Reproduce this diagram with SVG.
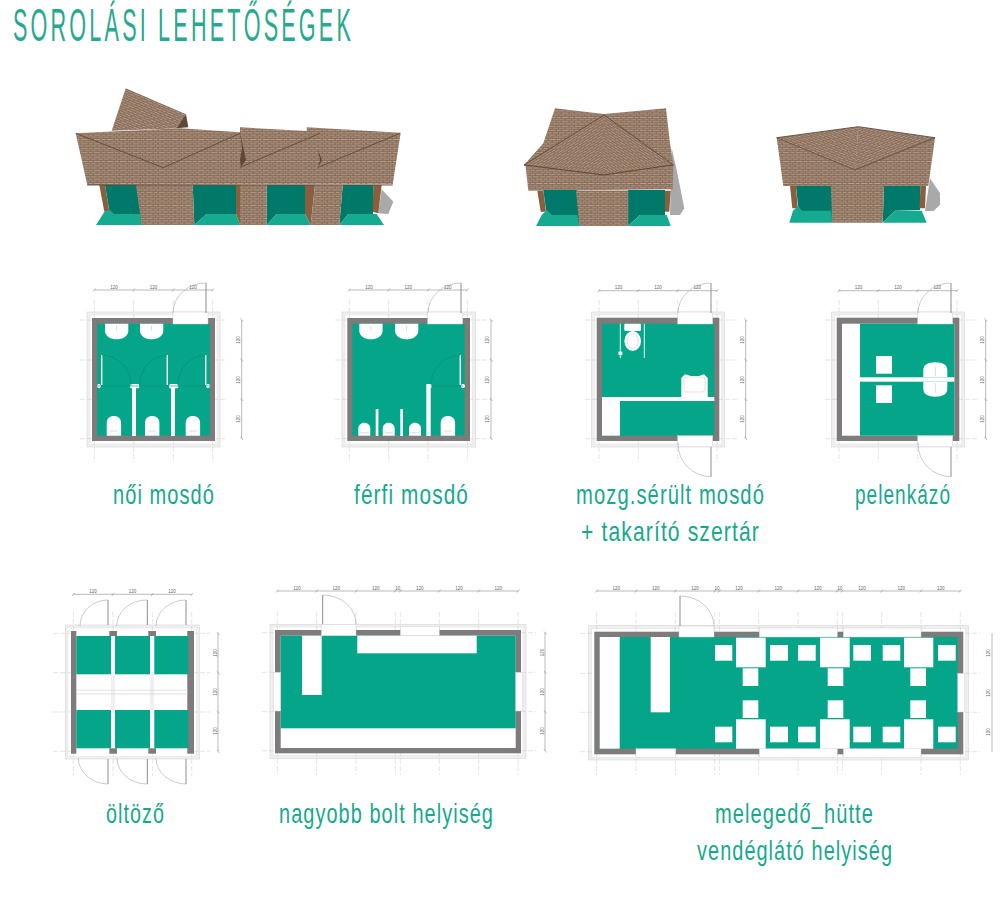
<svg xmlns="http://www.w3.org/2000/svg" width="1000" height="906" viewBox="0 0 1000 906">
<style>
.title{font-family:"Liberation Sans",Arial,sans-serif;font-size:47px;fill:#27a98f;letter-spacing:7px}
.lbl{font-family:"Liberation Sans",Arial,sans-serif;font-size:28px;fill:#17a98c;letter-spacing:1.5px}
.t{font-family:"Liberation Sans",Arial,sans-serif;font-size:4.5px;fill:#666;text-anchor:middle}
.teal{fill:#05a58a}
.wall{fill:#7f7b7a}
.w{fill:#fff}
.ring{fill:#efefef;stroke:#d5d5d5;stroke-width:.6}
.ringin{fill:#fff;stroke:#e2e2e2;stroke-width:.5}
.grid{stroke:#c8c8c8;stroke-width:.5;fill:none;stroke-dasharray:5 2}
.dim{stroke:#777;stroke-width:.5;fill:none}
.door{stroke:#b5b5b5;stroke-width:.7;fill:none}
.leaf{stroke:#8d8d8d;stroke-width:1;fill:none}
.swing{stroke:#068a74;stroke-width:.6;fill:none}
.gap{fill:#fff;stroke:#cfcfcf;stroke-width:.5}
.brick{fill:url(#bricks)}
.rf{stroke:#5f4a3a;stroke-width:.9;fill:none}
.dk{fill:#00796a}
.fl{fill:#12ab90}
.wd{fill:#8a5f3e}
.sh{fill:#a9a9a9}
.soft{filter:url(#soft)}
</style>
<defs>
<filter id="soft" x="-5%" y="-5%" width="110%" height="110%"><feGaussianBlur stdDeviation="0.35"/></filter>
<pattern id="bricks" width="13" height="4.4" patternUnits="userSpaceOnUse">
<rect width="13" height="4.4" fill="#8f7460"/>
<path d="M0 .9H5.5M7 .9H12M3 3.1H9.5M11 3.1H13M0 3.1H1.5" stroke="#b9a08a" stroke-width=".9"/>
<path d="M0 2H13M0 4.2H13" stroke="#725b4a" stroke-width=".45"/>
</pattern>
<pattern id="bricksL" href="#bricks" patternTransform="rotate(-32)"/>
<pattern id="bricksR" href="#bricks" patternTransform="rotate(32)"/>
<pattern id="bricksB" href="#bricks" patternTransform="rotate(23)"/>
<pattern id="bricksC" href="#bricks" patternTransform="rotate(22)"/>
<pattern id="bricksD" href="#bricks" patternTransform="rotate(-22)"/>
<g id="basin"><path d="M0 0H23.3V7C23.3 13 17 15.6 11.6 15.6S0 13 0 7Z" fill="#fff"/><path d="M11.6 2V7" stroke="#b9b9b9" stroke-width=".5"/></g>
<g id="wc"><path d="M0 19.7V7C0 2.5 3.2 0 7.2 0S14.4 2.5 14.4 7V19.7Z" fill="#fff"/><path d="M3 15H11.4" stroke="#bbb" stroke-width=".5"/></g>
<g id="urinal"><path d="M0 13V6C0 2.5 2.6 0 6 0S12 2.5 12 6V13Z" fill="#fff"/><path d="M2 10H10" stroke="#bbb" stroke-width=".5"/></g>
<g id="head"><rect width="9.3" height="4.3" rx="1.5" fill="#fff"/></g>
</defs>

<text id="title" class="title" x="13" y="41" textLength="341" lengthAdjust="spacingAndGlyphs">SOROLÁSI LEHETŐSÉGEK</text>

<g id="building1" class="soft">
<polygon class="sh" points="381.7,189.3 393.3,201.7 388.3,214 378.3,213.3"/>
<polygon fill="url(#bricksB)" points="125.7,88.3 186,114.3 180,128.3 111.7,130.7"/>
<polygon fill="#5d4838" points="186,114.3 188.3,127.3 176.7,128.3"/>
<polygon class="wd" points="99.3,185 105,185 109.3,211.7 104.3,211.7"/>
<polygon class="dk" points="105,185 137,185 142,225 110,215"/>
<polygon class="fl" points="96,225 141.7,225 140,214 114,214 110,210 104.3,212"/>
<polygon class="dk" points="192.7,185 236,185 236,214 206.7,214 194.3,225"/>
<polygon class="wd" points="236,185 240,185 240,225 236,214"/>
<polygon class="fl" points="194.3,225 206.7,214 236,214 240,225"/>
<polygon class="dk" points="266.7,185 305,185 305,214 276.7,214 266.7,225"/>
<polygon class="wd" points="305,185 315,185 310.7,225 305,214"/>
<polygon class="fl" points="266.7,225 276.7,214 305,214 310.7,225"/>
<polygon class="dk" points="342.7,185 373.3,185 373,214 348.3,214 339.3,225"/>
<polygon class="wd" points="373.3,185 381.7,185 378.3,213.3 372.7,211.7"/>
<polygon class="fl" points="339.3,225 348.3,214 376.7,214 384,225"/>
<polygon class="brick" points="136,185 192.7,185 194.3,225 141.7,225"/>
<polygon class="brick" points="240,185 266.7,185 266.7,225 240,225"/>
<polygon class="brick" points="315,185 342.7,185 339.3,225 310.7,225"/>
<polygon class="brick" points="75.7,133.3 180,128.3 240,132.3 240,127.3 306.7,131 306.7,127.3 400.7,132.7 392.7,184.3 87.3,185"/>
<path class="rf" d="M75.7 133.3L163.3 167.7L240 133.3M240 167.3L320 133.3M318.3 167.3L400 133.3M87.3 185H392.7"/>
<polygon fill="#5d4838" points="240,132.3 242,148 240,160 241,167 246,160"/>
<polygon fill="#5d4838" points="318,150 320,160 318.3,167.3 322,160"/>
</g>

<g id="building2" class="soft">
<polygon class="sh" points="671.7,148.3 676.7,170 684.3,208.3 680,215 670,215"/>
<polygon class="brick" points="555,108.3 604,114 666,108.3 670,143.3 673.3,165 603.3,175 524,165 543.3,143.3"/>
<polygon fill="url(#bricksL)" points="604,115 524,165 603.7,175"/>
<polygon fill="url(#bricksR)" points="604,115 673.3,165 603.3,175"/>
<path class="rf" d="M604 115L524 165L603.3 175L673.3 165Z"/>
<polygon class="brick" points="525.5,165.5 603.3,175 673.3,165.5 672.7,189.3 528.3,190.7"/>
<path class="rf" d="M524 165L603.3 175L673.3 165"/>
<polygon class="wd" points="537.3,190.7 543.3,190.7 546,211.7 540.7,211.7"/>
<polygon class="dk" points="543.3,190 577,190 580,226 552,226 546,210"/>
<polygon class="fl" points="536,226 579.5,226 577.3,215 552,215 547,210 541.7,215"/>
<polygon class="dk" points="628,190 665,190 665,215 640,215 628,226"/>
<polygon class="brick" points="576,190.5 628.3,190.5 628.3,226 579.3,226"/>
<polygon class="wd" points="665,190.7 670.7,190.7 669.3,211.7 665,211.7"/>
<polygon class="fl" points="628.3,226 640,215 666.7,215 670.7,226"/>
</g>

<g id="building3" class="soft">
<polygon class="sh" points="930,178.3 940,193.3 940,205 933.3,211 925,211"/>
<polygon class="brick" points="776.7,137.7 855,170 935,137.7 928.3,186 783.3,186"/>
<polygon fill="url(#bricksC)" points="776.7,137.7 858.3,126.7 855.5,170"/>
<polygon fill="url(#bricksD)" points="858.3,126.7 935,137.7 855,170"/>
<path class="rf" d="M776.7 137.7L858.3 126.7L935 137.7L855 170Z"/>
<polygon class="wd" points="790,186 796,186 797.7,208.3 792.3,208.3"/>
<polygon class="dk" points="796,186 832,186 833,222 803,222 798,206"/>
<polygon class="fl" points="789.3,222.7 832.3,222.7 831.3,210.7 802,210.7 798,206 793,210.7"/>
<polygon class="dk" points="884,186 920.7,186 920,210 895,210.7 882.7,222.7"/>
<polygon class="brick" points="830.7,185.8 884,185.8 882.7,222.7 832.3,222.7"/>
<polygon class="wd" points="920.7,186 926,186 925,208.3 919.3,208.3"/>
<polygon class="fl" points="883,222.7 895,210.7 921.7,210.7 926.7,222.7"/>
</g>

<g id="plan-noi">
<rect class="ring" x="87" y="312" width="133" height="135"/><rect class="ringin" x="90" y="315" width="127" height="129"/>
<path class="grid" d="M94.3 300V462M133.7 300V462M173.3 300V462M212.7 300V462M80 320H226M80 360H226M80 399.3H226M80 438.7H226"/>
<path class="dim" d="M94.3 290H212.7M241.7 320V438.7M93 291.5L95.5 288.5M132.5 291.5L135 288.5M172 291.5L174.5 288.5M211.5 291.5L214 288.5M240.5 318.5L243 321.5M240.5 358.5L243 361.5M240.5 398L243 401M240.5 437L243 440"/>
<rect class="wall" x="92" y="318" width="123" height="123"/>
<rect class="teal" x="97" y="323.7" width="113" height="112"/>
<rect class="gap" x="173" y="312" width="35" height="12"/>
<path class="leaf" d="M206 283V313"/><path class="door" d="M206 283A33 30 0 0 0 173 313"/>
<use href="#basin" x="105" y="323.7"/><use href="#basin" x="140" y="323.7"/>
<use href="#wc" x="106.7" y="416"/><use href="#wc" x="145" y="416"/><use href="#wc" x="185.7" y="416"/>
<rect class="w" x="132" y="385" width="4" height="51"/><rect class="w" x="171" y="385" width="4" height="51"/>
<use href="#head" x="130" y="384"/><use href="#head" x="169" y="384"/>
<path d="M101.7 355V385M167.3 355V385M205.7 355V385" stroke="#fff" stroke-width="1.4"/>
<circle class="w" cx="99" cy="386" r="2"/><circle class="w" cx="208" cy="386" r="2"/>
<path class="swing" d="M101.7 355A30 30 0 0 1 131 386M167.3 355A28 30 0 0 0 140 386M205.7 355A28 30 0 0 0 178 386M97 386H210"/>
<text class="t" x="114" y="289">120</text><text class="t" x="153.5" y="289">120</text><text class="t" x="193" y="289">120</text>
<text class="t" transform="translate(240,340) rotate(-90)">120</text><text class="t" transform="translate(240,380) rotate(-90)">120</text><text class="t" transform="translate(240,419) rotate(-90)">120</text>
</g>

<g id="plan-ferfi">
<rect class="ring" x="342" y="312" width="133.3" height="135"/><rect class="ringin" x="345" y="315" width="127.3" height="129"/>
<path class="grid" d="M349.3 300V462M388.7 300V462M428 300V462M467.3 300V462M335 320H490M335 360H490M335 399.3H490M335 438.7H490"/>
<path class="dim" d="M349.3 290H467.3M491 320V438.7M348 291.5L350.5 288.5M387.5 291.5L390 288.5M427 291.5L429.5 288.5M466 291.5L468.5 288.5M490 318.5L492.5 321.5M490 358.5L492.5 361.5M490 398L492.5 401M490 437L492.5 440"/>
<rect class="wall" x="347.3" y="318" width="122.7" height="123"/>
<rect class="teal" x="352.3" y="323.7" width="112.4" height="112"/>
<rect class="gap" x="427.7" y="312" width="35" height="12"/>
<path class="leaf" d="M461 283V313"/><path class="door" d="M461 283A33 30 0 0 0 428 313"/>
<use href="#basin" x="359.3" y="323.7"/><use href="#basin" x="395" y="323.7"/>
<use href="#urinal" x="358.3" y="422.7"/><use href="#urinal" x="382.7" y="422.7"/><use href="#urinal" x="409" y="422.7"/>
<use href="#wc" x="440.7" y="416"/>
<rect class="w" x="375.7" y="409" width="2.7" height="27"/><rect class="w" x="400.3" y="409" width="2.7" height="27"/><rect class="w" x="426.3" y="384" width="4.4" height="52"/>
<path d="M460.3 355V385" stroke="#fff" stroke-width="1.4"/><circle class="w" cx="463" cy="386" r="2"/><circle class="w" cx="430" cy="386" r="2"/>
<path class="swing" d="M460.3 355A30 30 0 0 0 431 386H463"/>
<text class="t" x="369" y="289">120</text><text class="t" x="408.3" y="289">120</text><text class="t" x="447.7" y="289">120</text>
<text class="t" transform="translate(489,340) rotate(-90)">120</text><text class="t" transform="translate(489,380) rotate(-90)">120</text><text class="t" transform="translate(489,419) rotate(-90)">120</text>
</g>

<g id="plan-mozg">
<rect class="ring" x="591.5" y="312" width="133" height="135"/><rect class="ringin" x="594.5" y="315" width="127" height="129"/>
<path class="grid" d="M599 300V462M638.3 300V462M677.7 300V462M717 300V462M585 320H738M585 360H738M585 399.3H738M585 438.7H738"/>
<path class="dim" d="M599 290.7H717M745.7 320V438.7M597.7 292L600.2 289M637 292L639.5 289M676.5 292L679 289M716 292L718.5 289M744.5 318.5L747 321.5M744.5 358.5L747 361.5M744.5 398L747 401M744.5 437L747 440"/>
<rect class="wall" x="596.7" y="317.7" width="122.6" height="123.3"/>
<rect class="teal" x="602" y="323.7" width="112.3" height="112"/>
<rect class="gap" x="677.7" y="312" width="35" height="12"/><rect class="gap" x="677.7" y="435.7" width="35" height="11"/>
<path class="leaf" d="M711 283V313M711 447V476.7"/><path class="door" d="M711 283A33 30 0 0 0 678 313M678 443A33 33 0 0 0 711 476.7"/>
<rect class="w" x="602" y="397" width="112.3" height="4"/><rect class="w" x="602" y="401" width="18" height="34.7"/>
<rect class="w" x="624.3" y="323.7" width="16.7" height="7.3" rx="1"/><ellipse class="w" cx="632.7" cy="341" rx="8.3" ry="10"/><ellipse cx="632.7" cy="341" rx="5.5" ry="7" fill="none" stroke="#d9b9b0" stroke-width=".5"/>
<path d="M620.3 323.7V358M644.3 323.7V358" stroke="#fff" stroke-width=".9"/><rect class="w" x="618.5" y="351.5" width="3.8" height="3.6"/>
<path class="w" d="M681.3 397V378L685 374.3L691 376H699L704 374.3L707.7 378V397Z"/><rect x="684" y="377" width="21" height="15" rx="3" fill="none" stroke="#e3b9b0" stroke-width=".5"/>
<text class="t" x="618.5" y="289">120</text><text class="t" x="658" y="289">120</text><text class="t" x="697.3" y="289">120</text>
<text class="t" transform="translate(744,340) rotate(-90)">120</text><text class="t" transform="translate(744,380) rotate(-90)">120</text><text class="t" transform="translate(744,419) rotate(-90)">120</text>
</g>

<g id="plan-pelenkazo">
<rect class="ring" x="831.5" y="312" width="133" height="135"/><rect class="ringin" x="834.5" y="315" width="127" height="129"/>
<path class="grid" d="M839 300V462M878.3 300V462M917.7 300V462M957 300V462M825 320H978M825 360H978M825 399.3H978M825 438.7H978"/>
<path class="dim" d="M839 290.7H957M985.7 320V438.7M837.7 292L840.2 289M877 292L879.5 289M916.5 292L919 289M956 292L958.5 289M984.5 318.5L987 321.5M984.5 358.5L987 361.5M984.5 398L987 401M984.5 437L987 440"/>
<rect class="wall" x="836.7" y="317.7" width="122.6" height="123.3"/>
<rect class="w" x="842" y="323.7" width="112.3" height="112"/>
<rect class="teal" x="860" y="323.7" width="94.3" height="112"/>
<rect class="gap" x="917.7" y="312" width="35" height="12"/><rect class="gap" x="917.7" y="435.7" width="35" height="11"/>
<path class="leaf" d="M951 283V313M951 447V476.7"/><path class="door" d="M951 283A33 30 0 0 0 918 313M918 443A33 33 0 0 0 951 476.7"/>
<rect class="w" x="842" y="377.3" width="112.3" height="4.4"/>
<rect class="w" x="876" y="356" width="16" height="17.7"/><rect class="w" x="876" y="385.3" width="16" height="17.7"/>
<path class="w" d="M923.3 377.3V370C923.3 365 928 362.3 935.3 362.3S947.3 365 947.3 370V377.3Z"/>
<path class="w" d="M923.3 381.7V389C923.3 394 928 396.7 935.3 396.7S947.3 394 947.3 389V381.7Z"/>
<path d="M935.3 366V376M935.3 383V393" stroke="#bbb" stroke-width=".5"/>
<text class="t" x="858.5" y="289">120</text><text class="t" x="898" y="289">120</text><text class="t" x="937.3" y="289">120</text>
<text class="t" transform="translate(984,340) rotate(-90)">120</text><text class="t" transform="translate(984,380) rotate(-90)">120</text><text class="t" transform="translate(984,419) rotate(-90)">120</text>
</g>

<g id="plan-oltozo">
<rect class="ring" x="65.3" y="625" width="134" height="134"/><rect class="ringin" x="68" y="628" width="128.5" height="128.5"/>
<path class="grid" d="M73.3 612V776M113 612V776M152.3 612V776M191.7 612V776M53 633.3H210M53 672.7H210M53 712H210M53 751.3H210"/>
<path class="dim" d="M73.3 594.3H191.7M218 633.3V751.3M72 596L74.5 593M111.7 596L114.2 593M151 596L153.5 593M190.5 596L193 593M217 632L219.5 635M217 671.5L219.5 674.5M217 710.5L219.5 713.5M217 750L219.5 753"/>
<rect class="w" x="71" y="631" width="123" height="122.7"/>
<rect class="wall" x="71" y="631" width="5.3" height="122.7"/><rect class="wall" x="187.3" y="631" width="6.7" height="122.7"/>
<rect class="wall" x="109.3" y="631" width="7.7" height="5"/><rect class="wall" x="148.3" y="631" width="7.7" height="5"/>
<rect class="wall" x="109.3" y="748.3" width="7.7" height="5.4"/><rect class="wall" x="148.3" y="748.3" width="7.7" height="5.4"/>
<rect class="teal" x="76.3" y="636" width="34.7" height="38.3"/><rect class="teal" x="115" y="636" width="35" height="38.3"/><rect class="teal" x="154.3" y="636" width="34" height="38.3"/>
<rect class="teal" x="76.3" y="710" width="34.7" height="38.3"/><rect class="teal" x="115" y="710" width="35" height="38.3"/><rect class="teal" x="154.3" y="710" width="34" height="38.3"/>
<path d="M76 690.3H188M76 694H188M112 674V710M114 674V710M151 674V710M153 674V710" stroke="#cfcfcf" stroke-width=".6" fill="none"/>
<path class="leaf" d="M108 600V625M147.3 600V625M186 600V625M108 759V784M147.3 759V784M186 759V784"/>
<path class="door" d="M108 600A28 26 0 0 0 80 626M147.3 600A30 26 0 0 0 116.7 626M186 600A30 26 0 0 0 156 626M78.3 758A30 26 0 0 0 108 784M117 758A30 26 0 0 0 147.3 784M156 758A30 26 0 0 0 186 784"/>
<text class="t" x="93" y="593">120</text><text class="t" x="132.5" y="593">120</text><text class="t" x="172" y="593">120</text>
<text class="t" transform="translate(217,653) rotate(-90)">120</text><text class="t" transform="translate(217,692) rotate(-90)">120</text><text class="t" transform="translate(217,731) rotate(-90)">120</text>
</g>

<g id="plan-bolt">
<rect class="ring" x="270" y="624.3" width="256" height="134"/><rect class="ringin" x="273" y="627" width="250" height="128.6"/>
<path class="grid" d="M277.3 612V775M316.7 612V775M356 612V775M395.3 612V775M400.3 612V775M439.3 612V775M478.7 612V775M518 612V775M262 632.7H536M262 672.3H536M262 711.7H536M262 750.7H536"/>
<path class="dim" d="M277.3 591H518M545 632.7V750.7M276 592.5L278.5 589.5M315.5 592.5L318 589.5M355 592.5L357.5 589.5M394 592.5L396.5 589.5M399 592.5L401.5 589.5M438 592.5L440.5 589.5M477.5 592.5L480 589.5M517 592.5L519.5 589.5M544 631.5L546.5 634.5M544 671L546.5 674M544 710.5L546.5 713.5M544 749.5L546.5 752.5"/>
<rect class="wall" x="275" y="630" width="246" height="123.3"/>
<rect class="w" x="280.7" y="635.7" width="235" height="112.3"/>
<rect class="teal" x="280.7" y="635.7" width="235" height="92.6"/>
<rect class="w" x="302" y="635.7" width="19.7" height="59.3"/><rect class="w" x="357.3" y="635.7" width="119.4" height="17.6"/>
<rect class="gap" x="321.3" y="624.5" width="34.7" height="11.2"/><rect class="gap" x="400.3" y="626.5" width="39" height="9.2"/>
<rect class="gap" x="273.5" y="672.3" width="7.2" height="38.7"/><rect class="gap" x="515.7" y="672.3" width="7" height="38.7"/>
<path class="leaf" d="M322.7 595V624"/><path class="door" d="M322.7 595A33 29 0 0 1 356 624"/>
<text class="t" x="297" y="590">120</text><text class="t" x="336.3" y="590">120</text><text class="t" x="375.7" y="590">120</text><text class="t" x="397.8" y="590">10</text><text class="t" x="419.8" y="590">120</text><text class="t" x="459" y="590">120</text><text class="t" x="498.3" y="590">120</text>
<text class="t" transform="translate(544,652.5) rotate(-90)">120</text><text class="t" transform="translate(544,692) rotate(-90)">120</text><text class="t" transform="translate(544,731) rotate(-90)">120</text>
</g>

<g id="plan-hutte">
<rect class="ring" x="588.7" y="625.7" width="379.6" height="134.3"/><rect class="ringin" x="591.5" y="628.5" width="374" height="128.7"/>
<path class="grid" d="M596.7 612V775M636 612V775M675.3 612V775M714.7 612V775M719.3 612V775M758.7 612V775M798 612V775M837.3 612V775M842.3 612V775M881.7 612V775M921 612V775M960.3 612V775M580 633.3H980M580 673.3H980M580 712.3H980M580 751.7H980"/>
<path class="dim" d="M596.7 591H960.3M992 633.3V751.7M595.5 592.5L598 589.5M634.8 592.5L637.3 589.5M674 592.5L676.5 589.5M713.5 592.5L716 589.5M718 592.5L720.5 589.5M757.5 592.5L760 589.5M796.8 592.5L799.3 589.5M836 592.5L838.5 589.5M841 592.5L843.5 589.5M880.5 592.5L883 589.5M919.8 592.5L922.3 589.5M959 592.5L961.5 589.5"/>
<rect class="wall" x="594.3" y="631.7" width="369" height="122.6"/>
<rect class="teal" x="599.7" y="637" width="358" height="111.7"/>
<rect class="w" x="599.7" y="637" width="20" height="111.7"/><rect class="w" x="650.7" y="637" width="19.3" height="75.3"/>
<rect class="gap" x="679" y="626" width="35" height="11"/>
<rect class="gap" x="759.3" y="628" width="78" height="9"/><rect class="gap" x="843.3" y="628" width="77.7" height="9"/>
<rect class="gap" x="636" y="748.7" width="39.7" height="9"/><rect class="gap" x="759.3" y="748.7" width="78" height="9"/><rect class="gap" x="843.3" y="748.7" width="77.7" height="9"/>
<rect class="gap" x="957.7" y="673.3" width="7" height="38.7"/>
<path class="leaf" d="M680 596V626"/><path class="door" d="M680 596A34 30 0 0 1 714 626"/>
<g class="w">
<rect x="736" y="637.7" width="29.7" height="29.6"/><rect x="820" y="637.7" width="29.7" height="29.6"/><rect x="904" y="637.7" width="29.3" height="29.6"/>
<rect x="736" y="719.3" width="29.7" height="29.4"/><rect x="820" y="719.3" width="29.7" height="29.4"/><rect x="904" y="719.3" width="29.3" height="29.4"/>
<rect x="715" y="645" width="17.3" height="15.7"/><rect x="770" y="645" width="18" height="15.7"/><rect x="798" y="645" width="17.7" height="15.7"/><rect x="853.3" y="645" width="17.7" height="15.7"/><rect x="882.7" y="645" width="17.6" height="15.7"/><rect x="938" y="645" width="17.7" height="15.7"/>
<rect x="715" y="726.7" width="17.3" height="15.6"/><rect x="770" y="726.7" width="18" height="15.6"/><rect x="798" y="726.7" width="17.7" height="15.6"/><rect x="853.3" y="726.7" width="17.7" height="15.6"/><rect x="882.7" y="726.7" width="17.6" height="15.6"/><rect x="938" y="726.7" width="17.7" height="15.6"/>
<rect x="742.7" y="668.3" width="15.6" height="17.7"/><rect x="827.7" y="668.3" width="15.6" height="17.7"/><rect x="910.3" y="668.3" width="15.7" height="17.7"/>
<rect x="742.7" y="700.3" width="15.6" height="17.7"/><rect x="827.7" y="700.3" width="15.6" height="17.7"/><rect x="910.3" y="700.3" width="15.7" height="17.7"/>
</g>
<text class="t" x="616.3" y="590">120</text><text class="t" x="655.7" y="590">120</text><text class="t" x="695" y="590">120</text><text class="t" x="717" y="590">10</text><text class="t" x="739" y="590">120</text><text class="t" x="778.3" y="590">120</text><text class="t" x="817.7" y="590">120</text><text class="t" x="839.8" y="590">10</text><text class="t" x="862" y="590">120</text><text class="t" x="901.3" y="590">120</text><text class="t" x="940.7" y="590">120</text>
<text class="t" transform="translate(990,653) rotate(-90)">120</text><text class="t" transform="translate(990,693) rotate(-90)">120</text><text class="t" transform="translate(990,732) rotate(-90)">120</text>
</g>

<g id="labels">
<text class="lbl" x="113" y="504" textLength="102" lengthAdjust="spacingAndGlyphs">női mosdó</text>
<text class="lbl" x="354" y="504" textLength="115" lengthAdjust="spacingAndGlyphs">férfi mosdó</text>
<text class="lbl" x="576" y="504" textLength="189" lengthAdjust="spacingAndGlyphs">mozg.sérült mosdó</text>
<text class="lbl" x="581" y="541" textLength="179" lengthAdjust="spacingAndGlyphs">+ takarító szertár</text>
<text class="lbl" x="855" y="504" textLength="96" lengthAdjust="spacingAndGlyphs">pelenkázó</text>
<text class="lbl" x="106" y="823" textLength="59" lengthAdjust="spacingAndGlyphs">öltöző</text>
<text class="lbl" x="279" y="823" textLength="215" lengthAdjust="spacingAndGlyphs">nagyobb bolt helyiség</text>
<text class="lbl" x="715" y="823" textLength="159" lengthAdjust="spacingAndGlyphs">melegedő_hütte</text>
<text class="lbl" x="697" y="860" textLength="196" lengthAdjust="spacingAndGlyphs">vendéglátó helyiség</text>
</g>
</svg>
